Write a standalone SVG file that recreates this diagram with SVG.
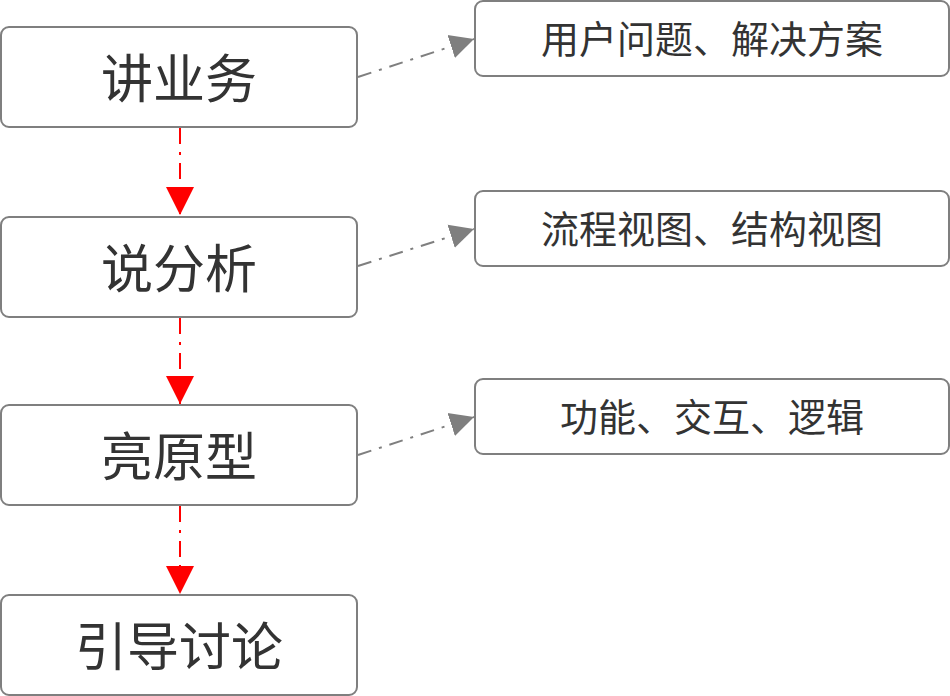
<svg xmlns="http://www.w3.org/2000/svg" width="950" height="696" viewBox="0 0 950 696">
<style>
.box{fill:#fff;stroke:#7f7f7f;stroke-width:2}
.big{font-family:"Noto Sans CJK SC","Noto Sans",sans-serif;font-size:52px;fill:#333;text-anchor:middle;dominant-baseline:central}
.small{font-family:"Noto Sans CJK SC","Noto Sans",sans-serif;font-size:38px;fill:#333;text-anchor:middle;dominant-baseline:central}
.red{stroke:#ff0000;stroke-width:2;fill:none;stroke-dasharray:16 8 3 8}
.gray{stroke:#7f7f7f;stroke-width:2;fill:none;stroke-dasharray:14 8 3 8}
</style>
<defs>
<marker id="ar" viewBox="0 0 10 10" refX="10" refY="5" markerUnits="userSpaceOnUse" markerWidth="28" markerHeight="30" orient="auto"><path d="M0,0L10,5L0,10Z" fill="#ff0000"/></marker>
<marker id="ag" viewBox="0 0 10 10" refX="10" refY="5" markerUnits="userSpaceOnUse" markerWidth="24" markerHeight="26" orient="auto"><path d="M0,0L10,5L0,10Z" fill="#7f7f7f"/></marker>
</defs>
<g id="connectors">
<path class="red" d="M180,128V215" marker-end="url(#ar)"/>
<path class="red" d="M180,318V404" marker-end="url(#ar)"/>
<path class="red" d="M180,506V594" marker-end="url(#ar)"/>
<path class="gray" d="M358,77L474,39" marker-end="url(#ag)"/>
<path class="gray" d="M358,266L474,229" marker-end="url(#ag)"/>
<path class="gray" d="M358,455L474,417" marker-end="url(#ag)"/>
</g>
<g id="n1"><rect class="box" x="1" y="27" width="356" height="100" rx="8"/><text class="big" x="179" y="75">讲业务</text></g>
<g id="n2"><rect class="box" x="1" y="217" width="356" height="100" rx="8"/><text class="big" x="179" y="265">说分析</text></g>
<g id="n3"><rect class="box" x="1" y="405" width="356" height="100" rx="8"/><text class="big" x="179" y="453">亮原型</text></g>
<g id="n4"><rect class="box" x="1" y="595" width="356" height="100" rx="8"/><text class="big" x="179" y="643">引导讨论</text></g>
<g id="r1"><rect class="box" x="475" y="1" width="474" height="75" rx="8"/><text class="small" x="712" y="36">用户问题、解决方案</text></g>
<g id="r2"><rect class="box" x="475" y="191" width="474" height="75" rx="8"/><text class="small" x="712" y="226">流程视图、结构视图</text></g>
<g id="r3"><rect class="box" x="475" y="379" width="474" height="75" rx="8"/><text class="small" x="712" y="414">功能、交互、逻辑</text></g>
</svg>
